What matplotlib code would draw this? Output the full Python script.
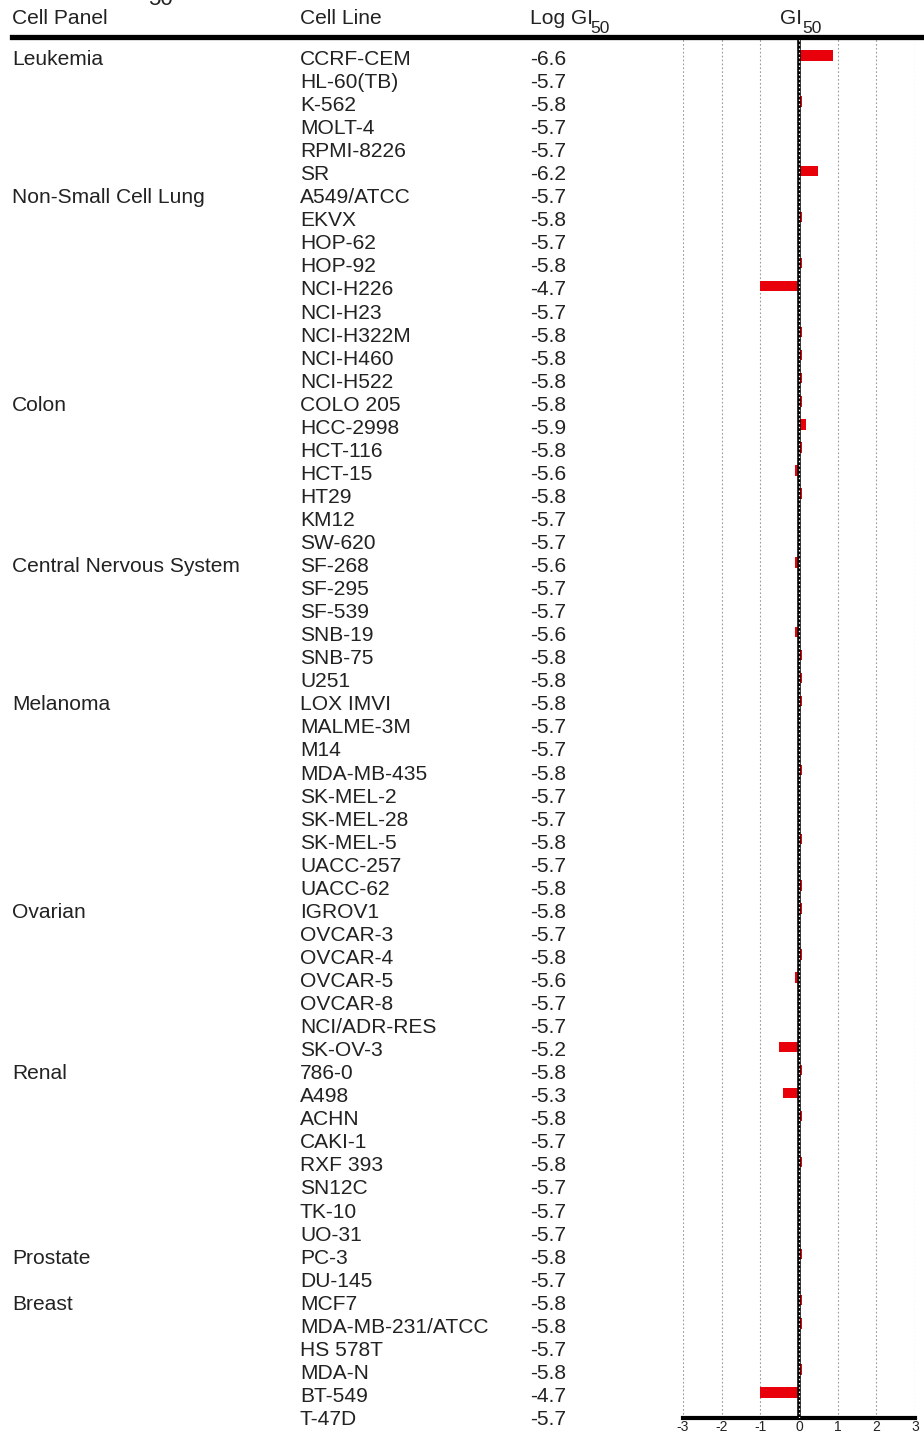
import numpy as np
import matplotlib
matplotlib.use("Agg")
import matplotlib.pyplot as plt
from matplotlib.transforms import blended_transform_factory
from matplotlib.lines import Line2D

plt.rcParams['font.family'] = ['Liberation Sans', 'DejaVu Sans']

# NCI-60 panels and the number of cell lines in each
panels = ['Leukemia', 'Non-Small Cell Lung', 'Colon', 'Central Nervous System',
          'Melanoma', 'Ovarian', 'Renal', 'Prostate', 'Breast']
panel_sizes = [6, 9, 7, 6, 9, 7, 8, 2, 6]

cell_lines = ['CCRF-CEM', 'HL-60(TB)', 'K-562', 'MOLT-4', 'RPMI-8226', 'SR',
              'A549/ATCC', 'EKVX', 'HOP-62', 'HOP-92', 'NCI-H226', 'NCI-H23',
              'NCI-H322M', 'NCI-H460', 'NCI-H522',
              'COLO 205', 'HCC-2998', 'HCT-116', 'HCT-15', 'HT29', 'KM12', 'SW-620',
              'SF-268', 'SF-295', 'SF-539', 'SNB-19', 'SNB-75', 'U251',
              'LOX IMVI', 'MALME-3M', 'M14', 'MDA-MB-435', 'SK-MEL-2', 'SK-MEL-28',
              'SK-MEL-5', 'UACC-257', 'UACC-62',
              'IGROV1', 'OVCAR-3', 'OVCAR-4', 'OVCAR-5', 'OVCAR-8', 'NCI/ADR-RES',
              'SK-OV-3',
              '786-0', 'A498', 'ACHN', 'CAKI-1', 'RXF 393', 'SN12C', 'TK-10', 'UO-31',
              'PC-3', 'DU-145',
              'MCF7', 'MDA-MB-231/ATCC', 'HS 578T', 'MDA-N', 'BT-549', 'T-47D']

log_gi50 = np.array([-6.6, -5.7, -5.8, -5.7, -5.7, -6.2,
                     -5.7, -5.8, -5.7, -5.8, -4.7, -5.7, -5.8, -5.8, -5.8,
                     -5.8, -5.9, -5.8, -5.6, -5.8, -5.7, -5.7,
                     -5.6, -5.7, -5.7, -5.6, -5.8, -5.8,
                     -5.8, -5.7, -5.7, -5.8, -5.7, -5.7, -5.8, -5.7, -5.8,
                     -5.8, -5.7, -5.8, -5.6, -5.7, -5.7, -5.2,
                     -5.8, -5.3, -5.8, -5.7, -5.8, -5.7, -5.7, -5.7,
                     -5.8, -5.7,
                     -5.8, -5.8, -5.7, -5.8, -4.7, -5.7])

x_ticks = [-3, -2, -1, 0, 1, 2, 3]

# mean graph: deviation of each line from the panel-wide mean
mean_log = log_gi50.mean()
delta = mean_log - log_gi50

W, H = 924, 1436
fig = plt.figure(figsize=(W / 100, H / 100), dpi=100)

# bar panel placed in pixel terms
top_px, bot_px = 37, 1418
row0_px, row_step = 59.5, 23.05
ax = fig.add_axes([683 / W, 1 - bot_px / H, 232 / W, (bot_px - top_px) / H])
ax.set_xlim(-3, 3)
ax.set_ylim((bot_px - row0_px) / row_step, (top_px - row0_px) / row_step)

rows = np.arange(len(cell_lines))
ax.barh(rows - 0.17, delta, height=0.45, color='#e8000b', zorder=3)

for t in x_ticks:
    if t != 0:
        ax.axvline(t, color='#9a9a9a', lw=0.8, ls=(0, (1.5, 2.0)), zorder=1)
ax.axvline(0, color='black', lw=2.6, zorder=4)
ax.axvline(0, color='white', lw=0.9, ls=(0, (1.2, 2.2)), zorder=5)

for s in ['left', 'right', 'top']:
    ax.spines[s].set_visible(False)
ax.spines['bottom'].set_linewidth(3.0)
ax.set_yticks([])
ax.set_xticks(x_ticks)
ax.set_xticklabels([str(t) for t in x_ticks])
ax.tick_params(axis='x', length=0, pad=1.5, labelsize=10, labelcolor='#222222')

# thick rule under the header
fig.add_artist(Line2D([12 / W, 1.0], [1 - top_px / H] * 2, color='black', lw=3.8,
                      transform=fig.transFigure))

tr = blended_transform_factory(fig.transFigure, ax.transData)
fs = 15.1
txt = '#222222'

# table text
for i, (name, val) in enumerate(zip(cell_lines, log_gi50)):
    ax.text(300 / W, i, name, transform=tr, fontsize=fs, color=txt,
            va='center', ha='left', clip_on=False)
    ax.text(530 / W, i, f'{val:.1f}', transform=tr, fontsize=fs, color=txt,
            va='center', ha='left', clip_on=False)

start = 0
for name, n in zip(panels, panel_sizes):
    ax.text(12 / W, start, name, transform=tr, fontsize=fs, color=txt,
            va='center', ha='left', clip_on=False)
    start += n

# header row
hy = (19 - row0_px) / row_step
sub_y = (29 - row0_px) / row_step
ax.text(12 / W, hy, 'Cell Panel', transform=tr, fontsize=fs, color=txt,
        va='center', ha='left', clip_on=False)
ax.text(300 / W, hy, 'Cell Line', transform=tr, fontsize=fs, color=txt,
        va='center', ha='left', clip_on=False)
ax.text(530 / W, hy, 'Log GI', transform=tr, fontsize=fs, color=txt,
        va='center', ha='left', clip_on=False)
ax.text(590 / W, sub_y, '50', transform=tr, fontsize=12.5, color=txt,
        va='center', ha='left', clip_on=False)
ax.text(780 / W, hy, 'GI', transform=tr, fontsize=fs, color=txt,
        va='center', ha='left', clip_on=False)
ax.text(802 / W, sub_y, '50', transform=tr, fontsize=12.5, color=txt,
        va='center', ha='left', clip_on=False)

# title subscript peeking in at the top edge of the image
fig.text(148 / W, 1 - 5 / H, '50', fontsize=16, color=txt, va='baseline', ha='left')

fig.savefig('out.png', dpi=100)
